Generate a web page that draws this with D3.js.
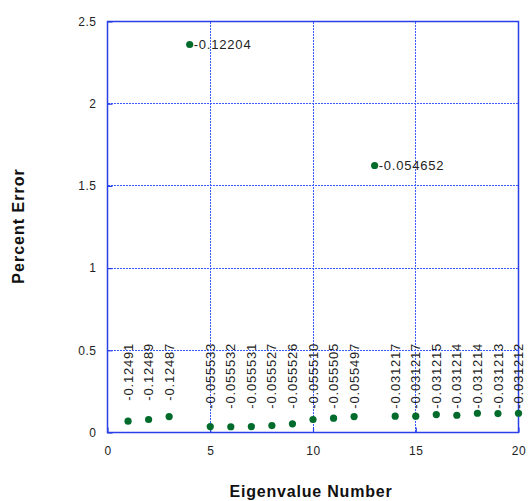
<!DOCTYPE html>
<html>
<head>
<meta charset="utf-8">
<script src="https://cdn.jsdelivr.net/npm/d3@7"></script>
<style>
  html, body { margin: 0; padding: 0; background: #fff; }
  svg { display: block; font-family: "Liberation Sans", Arial, sans-serif; }
</style>
</head>
<body>
<svg id="chart" width="528" height="501"></svg>
<script>
const eigenNumbers = [1,2,3,4,5,6,7,8,9,10,11,12,13,14,15,16,17,18,19,20];
const percentError = [0.069,0.079,0.097,2.36,0.036,0.035,0.036,0.042,0.053,0.079,0.087,0.097,1.624,0.099,0.099,0.109,0.105,0.117,0.115,0.117];
const pointLabels = ["-0.12491","-0.12489","-0.12487","-0.12204","-0.055533","-0.055532","-0.055531","-0.055527","-0.055526","-0.055510","-0.055505","-0.055497","-0.054652","-0.031217","-0.031217","-0.031215","-0.031214","-0.031214","-0.031213","-0.031212"];
const xTicks = [0,5,10,15,20];
const yTicks = [0,0.5,1,1.5,2,2.5];
const xTitle = "Eigenvalue Number";
const yTitle = "Percent Error";

const data = eigenNumbers.map((n,i)=>({n, v: percentError[i], label: pointLabels[i]}));

const svg = d3.select("#chart");
const m = {left:107.5, right:518.5, top:21.5, bottom:432.5};
const x = d3.scaleLinear().domain([0,20]).range([m.left, m.right]);
const y = d3.scaleLinear().domain([0,2.5]).range([m.bottom, m.top]);
const px = v => Math.round(v - 0.5) + 0.5;

const gridColor = "#3a5cff";
const borderColor = "#2a3fe8";

// gridlines
const g = svg.append("g").attr("shape-rendering", "crispEdges");
g.selectAll(".vg").data(xTicks.filter(t=>t>0 && t<20)).enter().append("line")
  .attr("x1", d=>px(x(d))).attr("x2", d=>px(x(d))).attr("y1", m.top).attr("y2", m.bottom)
  .attr("stroke", gridColor).attr("stroke-width", 1).attr("stroke-dasharray", "2,1");
g.selectAll(".hg").data(yTicks.filter(t=>t>0 && t<2.5)).enter().append("line")
  .attr("x1", m.left).attr("x2", m.right).attr("y1", d=>px(y(d))).attr("y2", d=>px(y(d)))
  .attr("stroke", gridColor).attr("stroke-width", 1).attr("stroke-dasharray", "2,1");

// axes with short inward ticks
const xAxis = d3.axisBottom(x).tickValues(xTicks).tickSize(-5).tickPadding(14).tickFormat(d3.format("d"));
const yAxis = d3.axisLeft(y).tickValues(yTicks).tickSize(-5).tickPadding(11).tickFormat(d=>String(d));
const gx = svg.append("g").attr("transform", `translate(0,${m.bottom})`).call(xAxis);
const gy = svg.append("g").attr("transform", `translate(${m.left},0)`).call(yAxis);
[gx, gy].forEach(a=>{
  a.select(".domain").remove();
  a.selectAll(".tick line").attr("stroke", borderColor).attr("stroke-width", 1.2);
  a.selectAll(".tick text").attr("fill", "#222").style("font-size", "12px")
    .style("letter-spacing", "0.5px")
    .style("font-family", "'Liberation Sans', Arial, sans-serif");
});

// border
svg.append("rect").attr("x", m.left).attr("y", m.top)
  .attr("width", m.right-m.left).attr("height", m.bottom-m.top)
  .attr("fill", "none").attr("stroke", borderColor).attr("stroke-width", 1.5);

// labels
const labelTop = y(0.545);
const isBig = d => d.v > 1;
svg.selectAll(".vlab").data(data.filter(d=>!isBig(d))).enter().append("text")
  .attr("transform", d=>`translate(${x(d.n)},${labelTop}) rotate(-90)`)
  .attr("text-anchor", "end").attr("dy", "0.35em")
  .attr("fill", "#222").style("font-size", "13px").style("letter-spacing", "0.8px")
  .text(d=>d.label);
svg.selectAll(".hlab").data(data.filter(isBig)).enter().append("text")
  .attr("x", d=>x(d.n)+4).attr("y", d=>y(d.v)).attr("dy", "0.35em")
  .attr("fill", "#222").style("font-size", "13px").style("letter-spacing", "0.8px")
  .text(d=>d.label);

// points
svg.selectAll(".pt").data(data).enter().append("circle")
  .attr("cx", d=>x(d.n)).attr("cy", d=>y(d.v)).attr("r", 3.6)
  .attr("fill", "#006b2b");

// titles
svg.append("text").attr("x", 311).attr("y", 497).attr("text-anchor", "middle")
  .style("font-size", "16px").style("font-weight", "bold").style("letter-spacing", "0.8px")
  .attr("fill", "#111").text(xTitle);
svg.append("text").attr("transform", "translate(24,226) rotate(-90)").attr("text-anchor", "middle")
  .style("font-size", "16px").style("font-weight", "bold").style("letter-spacing", "1px")
  .attr("fill", "#111").text(yTitle);
</script>
</body>
</html>
